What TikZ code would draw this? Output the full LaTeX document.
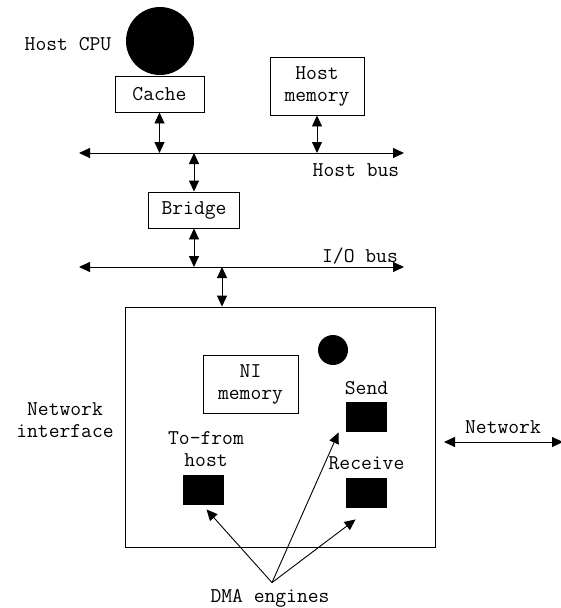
\documentclass[tikz,border=0pt]{standalone}
\usetikzlibrary{arrows.meta, positioning}

\begin{document}
\begin{tikzpicture}[x=1pt, y=-1pt, >={Triangle[length=11pt,width=10pt]}, line width=0.9pt,
                font=\ttfamily\fontsize{21}{22}\selectfont,
                block/.style={rectangle, draw, fill=white, align=center, inner sep=0pt},
                engine/.style={rectangle, fill=black, minimum width=41pt, minimum height=30pt, inner sep=0pt},
                lbl/.style={inner sep=0pt, align=center}
            ]
            \useasboundingbox (0,0) rectangle (561,608);

            % Host side
            \fill (160,41) circle (34) coordinate (cpu);
            \node[lbl] (cpuname) at (68,44) {Host CPU};
            \node[block, minimum width=89pt, minimum height=36pt] (cache) at (159.5,94) {Cache};
            \node[block, minimum width=94pt, minimum height=58pt] (hmem) at (317,86) {Host\\memory};

            % Host bus
            \coordinate (hbL) at (79,153);
            \coordinate (hbR) at (404,153);
            \draw[<->] (hbL) -- (hbR);
            \node[lbl] (hbname) at (356,170) {Host bus};
            \draw[<->] (cache.south) -- (cache.south |- hbL);
            \draw[<->] (hmem.south) -- (hmem.south |- hbL);

            % Bridge
            \node[block, minimum width=91pt, minimum height=36pt] (bridge) at (194,210) {Bridge};
            \draw[<->] (bridge.north |- hbL) -- (bridge.north);

            % I/O bus
            \coordinate (ioL) at (79,267);
            \coordinate (ioR) at (404,267);
            \draw[<->] (ioL) -- (ioR);
            \node[lbl] (ioname) at (360,256) {I/O bus};
            \draw[<->] (bridge.south) -- (bridge.south |- ioL);

            % Network interface
            \node[draw, minimum width=310pt, minimum height=240pt, inner sep=0pt] (ni) at (280,427) {};
            \node[lbl] (niname) at (65,420) {Network\\interface};
            \coordinate (niIn) at (222,267);
            \draw[<->] (niIn) -- (niIn |- ni.north);
            \fill (333,350) circle (15) coordinate (niproc);
            \node[block, minimum width=95pt, minimum height=58pt] (nimem) at (250.5,384) {NI\\memory};

            % DMA engines
            \node[engine] (send) at (366.5,417) {};
            \node[lbl, above=6pt of send] (sendname) {Send};
            \node[engine] (recv) at (366.5,493) {};
            \node[lbl, above=7pt of recv] (recvname) {Receive};
            \node[engine] (tofrom) at (203.5,490) {};
            \node[lbl] (tofromname) at (206,449) {To-from\\host};
            \node[lbl] (dma) at (270,598) {DMA engines};
            \draw[->] ([xshift=2pt,yshift=6pt]dma.north) -- ([xshift=3pt,yshift=-4pt]tofrom.south);
            \draw[->] ([xshift=2pt,yshift=6pt]dma.north) -- ([xshift=-7pt]send.south west);
            \draw[->] ([xshift=2pt,yshift=6pt]dma.north) -- ([xshift=10pt,yshift=-11pt]recv.south west);

            % Network
            \coordinate (netL) at (444,442);
            \coordinate (netR) at (563,442);
            \draw[<->] (netL) -- (netR);
            \node[lbl] (netname) at (503,427) {Network};

        \end{tikzpicture}
\end{document}
